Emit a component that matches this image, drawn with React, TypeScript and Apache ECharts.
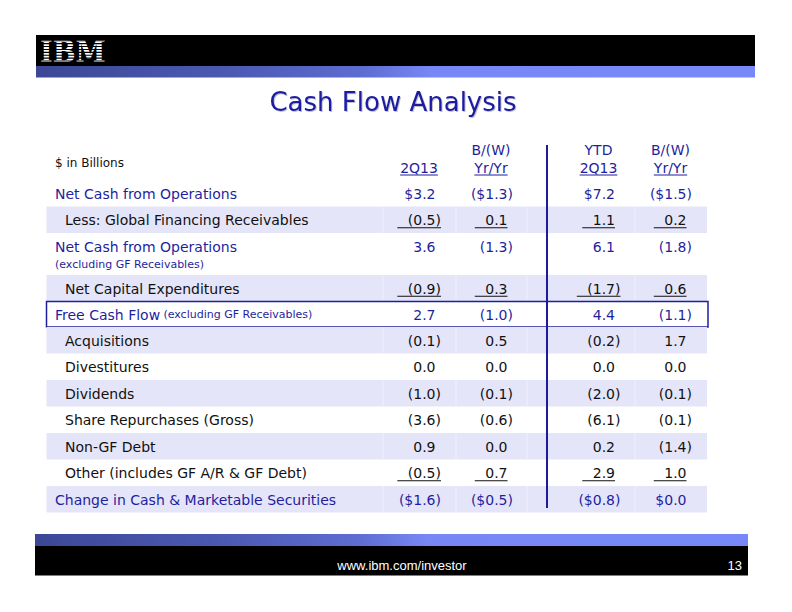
import React, { useEffect, useRef } from "react";
import * as echarts from "echarts";

// ---------- data ----------
const titleText = "Cash Flow Analysis";
const unitsLabel = "$ in Billions";
const colHeaderTop = ["", "B/(W)", "YTD", "B/(W)"];
const colHeaderBottom = ["2Q13", "Yr/Yr", "2Q13", "Yr/Yr"];

const rowLabels = [
  "Net Cash from Operations",
  "Less: Global Financing Receivables",
  "Net Cash from Operations",
  "Net Capital Expenditures",
  "Free Cash Flow",
  "Acquisitions",
  "Divestitures",
  "Dividends",
  "Share Repurchases (Gross)",
  "Non-GF Debt",
  "Other (includes GF A/R & GF Debt)",
  "Change in Cash & Marketable Securities",
];
const rowNotes = ["", "", "(excluding GF Receivables)", "", "(excluding GF Receivables)", "", "", "", "", "", "", ""];
const rowIsTotal = [true, false, true, false, true, false, false, false, false, false, false, true];
const rowUnderlined = [false, true, false, true, false, false, false, false, false, false, true, false];

const qtr2Q13 = ["$3.2", "(0.5)", "3.6", "(0.9)", "2.7", "(0.1)", "0.0", "(1.0)", "(3.6)", "0.9", "(0.5)", "($1.6)"];
const qtrBW = ["($1.3)", "0.1", "(1.3)", "0.3", "(1.0)", "0.5", "0.0", "(0.1)", "(0.6)", "0.0", "0.7", "($0.5)"];
const ytd2Q13 = ["$7.2", "1.1", "6.1", "(1.7)", "4.4", "(0.2)", "0.0", "(2.0)", "(6.1)", "0.2", "2.9", "($0.8)"];
const ytdBW = ["($1.5)", "0.2", "(1.8)", "0.6", "(1.1)", "1.7", "0.0", "(0.1)", "(0.1)", "(1.4)", "1.0", "$0.0"];
const valueColumns = [qtr2Q13, qtrBW, ytd2Q13, ytdBW];

const footerUrl = "www.ibm.com/investor";
const pageNumber = "13";

// ---------- layout / style ----------
const W = 792;
const H = 612;
const FONT = "'DejaVu Sans', Verdana, sans-serif";
const BLUE = "#1f1f9e";
const BLACK = "#111111";
const SHADE = "#e5e5f9";
const TABLE_LEFT = 46.5;
const TABLE_RIGHT = 707;
const TABLE_TOP = 180;
const ROW_H = [26.5, 26.5, 42, 26.5, 25.5, 26.5, 26.5, 26.5, 26.5, 26.5, 26.5, 26.5];
const ROW_TOP: number[] = [];
{
  let acc = TABLE_TOP;
  for (const h of ROW_H) {
    ROW_TOP.push(acc);
    acc += h;
  }
}
const COL_RIGHT = [441, 513, 620.5, 692];
const COL_CENTER = [419, 491, 598.5, 670.5];
const CELL_SEPS = [383, 456, 527, 635];
const DIVIDER_X = 547;

let measureCtx: CanvasRenderingContext2D | null = null;
function textWidth(text: string, size: number) {
  if (!measureCtx) measureCtx = document.createElement("canvas").getContext("2d");
  if (!measureCtx) return text.length * size * 0.6;
  measureCtx.font = `${size}px ${FONT}`;
  return measureCtx.measureText(text).width;
}

function stripeGradient() {
  return new echarts.graphic.LinearGradient(0, 0, 1, 0, [
    { offset: 0, color: "#3c4896" },
    { offset: 0.25, color: "#4a58b0" },
    { offset: 0.45, color: "#5d6cd0" },
    { offset: 0.55, color: "#7788f6" },
    { offset: 1, color: "#7788f8" },
  ]);
}

export default function App() {
  const ref = useRef<HTMLDivElement>(null);

  useEffect(() => {
    if (!ref.current) return;
    const chart = echarts.init(ref.current, undefined, { renderer: "svg" });

    const renderRow = (params: any, api: any) => {
      const i = api.value(0) as number;
      const top = ROW_TOP[i];
      const h = ROW_H[i];
      const [x0, y0] = api.coord([TABLE_LEFT, top]);
      const [x1, y1] = api.coord([TABLE_RIGHT, top + h]);
      const children: any[] = [];
      const shaded = i % 2 === 1;
      if (shaded) {
        children.push({ type: "rect", shape: { x: x0, y: y0, width: x1 - x0, height: y1 - y0 }, style: { fill: SHADE } });
        CELL_SEPS.forEach((sx) => {
          const [px] = api.coord([sx, top]);
          children.push({
            type: "line",
            shape: { x1: px, y1: y0, x2: px, y2: y1 },
            style: { stroke: "#efeffc", lineWidth: 1 },
          });
        });
      }
      if (i === 4) {
        const [bx1] = api.coord([TABLE_RIGHT + 1, top]);
        children.push({
          type: "rect",
          shape: { x: x0, y: y0, width: bx1 - x0, height: y1 - y0 },
          style: { fill: "#ffffff", stroke: BLUE, lineWidth: 1.5 },
        });
      }
      const twoLine = rowNotes[i] && i === 2;
      const mainY = twoLine ? y0 + 14 : (y0 + y1) / 2 + 0.5;
      const color = rowIsTotal[i] ? BLUE : BLACK;
      const [lx] = api.coord([rowIsTotal[i] ? 55 : 65, top]);
      if (rowNotes[i] && !twoLine) {
        children.push({
          type: "text",
          style: {
            x: lx,
            y: mainY,
            text: `{a|${rowLabels[i]}} {b|${rowNotes[i]}}`,
            verticalAlign: "middle",
            align: "left",
            rich: {
              a: { fontSize: 14, fontFamily: FONT, fill: color, color },
              b: { fontSize: 11, fontFamily: FONT, fill: color, color },
            },
          },
        });
      } else {
        children.push({
          type: "text",
          style: { x: lx, y: mainY, text: rowLabels[i], fill: color, font: `14px ${FONT}`, verticalAlign: "middle", align: "left" },
        });
        if (twoLine) {
          children.push({
            type: "text",
            style: { x: lx, y: y0 + 31, text: rowNotes[i], fill: color, font: `11px ${FONT}`, verticalAlign: "middle", align: "left" },
          });
        }
      }
      const parenW = textWidth(")", 14);
      valueColumns.forEach((col, c) => {
        const v = col[i];
        const endsParen = v.endsWith(")");
        const [rx] = api.coord([COL_RIGHT[c], top]);
        const right = endsParen ? rx : rx - parenW;
        children.push({
          type: "text",
          style: { x: right, y: mainY, text: v, fill: color, font: `14px ${FONT}`, verticalAlign: "middle", align: "right" },
        });
        if (rowUnderlined[i]) {
          const w = textWidth(v, 14);
          children.push({
            type: "line",
            shape: { x1: right - w - 10.5, y1: mainY + 7.5, x2: right, y2: mainY + 7.5 },
            style: { stroke: BLACK, lineWidth: 1 },
          });
        }
      });
      return { type: "group", children };
    };

    const renderHeader = (params: any, api: any) => {
      const children: any[] = [];
      const [ux, uy] = api.coord([55, 162.5]);
      children.push({
        type: "text",
        style: { x: ux, y: uy, text: unitsLabel, fill: BLACK, font: `12px ${FONT}`, verticalAlign: "middle", align: "left" },
      });
      COL_CENTER.forEach((cx, c) => {
        const [px, pyTop] = api.coord([cx, 150]);
        const [, pyBot] = api.coord([cx, 168]);
        if (colHeaderTop[c]) {
          children.push({
            type: "text",
            style: { x: px, y: pyTop, text: colHeaderTop[c], fill: BLUE, font: `14px ${FONT}`, verticalAlign: "middle", align: "center" },
          });
        }
        children.push({
          type: "text",
          style: { x: px, y: pyBot, text: colHeaderBottom[c], fill: BLUE, font: `14px ${FONT}`, verticalAlign: "middle", align: "center" },
        });
        const w = textWidth(colHeaderBottom[c], 14);
        children.push({
          type: "line",
          shape: { x1: px - w / 2, y1: pyBot + 7, x2: px + w / 2, y2: pyBot + 7 },
          style: { stroke: BLUE, lineWidth: 1 },
        });
      });
      const [dx, dy0] = api.coord([DIVIDER_X, 145]);
      const [, dy1] = api.coord([DIVIDER_X, 508]);
      children.push({
        type: "line",
        shape: { x1: dx, y1: dy0, x2: dx, y2: dy1 },
        style: { stroke: "#1c1c9a", lineWidth: 2 },
      });
      return { type: "group", children };
    };

    // IBM logo stripes
    const logoStripes: any[] = [];
    for (let k = 0; k < 8; k++) {
      logoStripes.push({
        type: "rect",
        shape: { x: 38, y: 40.2 + k * 2.9, width: 66, height: 1.1 },
        style: { fill: "#000000" },
        z: 12,
      });
    }

    const option: any = {
      animation: false,
      backgroundColor: "#ffffff",
      grid: { left: 0, right: 0, top: 0, bottom: 0 },
      xAxis: { type: "value", min: 0, max: W, show: false },
      yAxis: { type: "value", min: 0, max: H, inverse: true, show: false },
      graphic: [
        { type: "rect", shape: { x: 36, y: 35, width: 719, height: 31 }, style: { fill: "#000000" }, z: 10 },
        { type: "rect", shape: { x: 36, y: 66, width: 719, height: 11.5 }, style: { fill: stripeGradient() }, z: 10 },
        {
          type: "text",
          x: 40,
          y: 36.5,
          scaleX: 1,
          scaleY: 1.12,
          style: { x: 0, y: 0, text: "IBM", fill: "#ffffff", font: `bold 27px 'DejaVu Serif', serif`, verticalAlign: "top", align: "left" },
          z: 11,
        },
        ...logoStripes,
        {
          type: "text",
          style: {
            x: 393,
            y: 102,
            text: titleText,
            fill: "#1c1ca2",
            font: `26px ${FONT}`,
            align: "center",
            verticalAlign: "middle",
            textShadowColor: "rgba(0,0,0,0.25)",
            textShadowOffsetX: 1,
            textShadowOffsetY: 1,
            textShadowBlur: 1,
          },
          z: 10,
        },
        { type: "rect", shape: { x: 35, y: 534, width: 713, height: 12 }, style: { fill: stripeGradient() }, z: 10 },
        { type: "rect", shape: { x: 35, y: 546, width: 713, height: 29.5 }, style: { fill: "#000000" }, z: 10 },
        {
          type: "text",
          style: {
            x: 402,
            y: 565,
            text: footerUrl,
            fill: "#ffffff",
            font: `13px 'Liberation Sans Narrow', 'Liberation Sans', sans-serif`,
            align: "center",
            verticalAlign: "middle",
          },
          z: 11,
        },
        {
          type: "text",
          style: {
            x: 742,
            y: 565,
            text: pageNumber,
            fill: "#ffffff",
            font: `13px 'Liberation Sans Narrow', 'Liberation Sans', sans-serif`,
            align: "right",
            verticalAlign: "middle",
          },
          z: 11,
        },
      ],
      series: [
        {
          type: "custom",
          name: "rows",
          coordinateSystem: "cartesian2d",
          renderItem: renderRow,
          data: rowLabels.map((_, i) => [i]),
          silent: true,
          z: 2,
        },
        {
          type: "custom",
          name: "header",
          coordinateSystem: "cartesian2d",
          renderItem: renderHeader,
          data: [[0]],
          silent: true,
          z: 5,
        },
      ],
    };
    chart.setOption(option);
    return () => chart.dispose();
  }, []);

  return <div ref={ref} style={{ position: "fixed", left: 0, top: 0, width: W, height: H }} />;
}
